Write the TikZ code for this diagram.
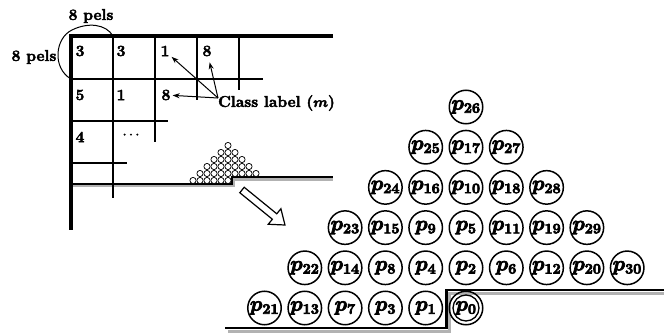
\documentclass[tikz,border=0pt]{standalone}
\usepackage{fontspec}
\usetikzlibrary{calc,arrows.meta}
\newcommand\heavyon[1]{\special{pdf:literal direct 2 Tr #1 w}}
\newcommand\heavyoff{\special{pdf:literal direct 0 Tr}}
\begin{document}
\begin{tikzpicture}[x=1pt,y=-1pt,
  thickln/.style={line width=3.3pt},
  thinln/.style={line width=1.2pt},
  stairln/.style={line width=2.6pt,line join=miter},
  stairshadow/.style={line width=3pt,black!30,line join=miter},
  bigc/.style={circle,draw,line width=1.5pt,minimum size=33.5pt,inner sep=0pt,
    font=\fontsize{22}{24}\selectfont\boldmath,
    execute at begin node={\heavyon{0.7}}, execute at end node={\heavyoff}},
  smallc/.style={circle,draw,fill=white,line width=0.7pt,minimum size=6.2pt,inner sep=0pt},
  num/.style={font=\fontsize{15.6}{18}\selectfont\bfseries,inner sep=2pt,
    execute at begin node={\heavyon{0.45}}, execute at end node={\heavyoff}},
  lblarrow/.style={line width=1pt,-{Stealth[length=7pt,width=5pt]}}]
\useasboundingbox (0,0) rectangle (664,334);

% big stair with shadow
\draw[stairshadow] (228,331) -- (449.5,331) -- (449.5,293) -- (664,293);
\draw[stairln] (225,328) -- (446.5,328) -- (446.5,290) -- (664,290);

% small stair with shadow
\draw[stairshadow,line width=2.2pt] (73,186) -- (233.5,186) -- (233.5,179.5) -- (333,179.5);
\draw[stairln,line width=2pt] (71,183.5) -- (231.5,183.5) -- (231.5,177) -- (333,177);

% grid
\draw[thinln] (71,79) -- (263,79);
\draw[thinln] (71,121) -- (168,121);
\draw[thinln] (71,163) -- (127,163);
\draw[thinln] (113,36) -- (113,198);
\draw[thinln] (155,36) -- (155,142);
\draw[thinln] (197,36) -- (197,100);
\draw[thinln] (239,36) -- (239,90);
\draw[thickln,line join=miter] (333,36) -- (71,36) -- (71,230);

% cell numbers
\node[num] (n11) at (80,51) {3};
\node[num] (n12) at (121,51) {3};
\node[num] (n13) at (165,51) {1};
\node[num] (n14) at (207,51) {8};
\node[num] (n21) at (80,95) {5};
\node[num] (n22) at (121,95) {1};
\node[num] (n23) at (166,95) {8};
\node[num] (n31) at (80,137) {4};
\node[num] (n32) at (131,135) {$\cdots$};

% 8 pels labels and arc
\node[num] (tp) at (91,16) {8 pels};
\node[num] (lp) at (34,57) {8 pels};
\draw[line width=1pt] (71,79) .. controls (52,68) and (55,38) .. (72,30)
  .. controls (88,22) and (106,24) .. (113,36);

% class label
\node[num,anchor=west,inner sep=0pt] (cl) at (218,103) {Class label ({\boldmath$m$})};
\coordinate (ct) at (218,98);
\draw[lblarrow] (ct) -- (n13);
\draw[lblarrow,shorten >=4pt] (ct) -- (n14);
\draw[lblarrow] (ct) -- (n23);

% pyramids
\foreach \c/\r/\l in {-5/0/21,-4/0/13,-3/0/7,-2/0/3,-1/0/1,0/0/0,
  -4/1/22,-3/1/14,-2/1/8,-1/1/4,0/1/2,1/1/6,2/1/12,3/1/20,4/1/30,
  -3/2/23,-2/2/15,-1/2/9,0/2/5,1/2/11,2/2/19,3/2/29,
  -2/3/24,-1/3/16,0/3/10,1/3/18,2/3/28,
  -1/4/25,0/4/17,1/4/27,
  0/5/26}
{
  \node[bigc] (p\l) at ({466+40.3*\c},{308-40.2*\r}) {$p_{\l}$};
  \node[smallc] (s\l) at ({228+7*\c},{180.5-7*\r}) {};
}
\draw[line width=1.3pt] (p0.center) circle (13pt);

% hollow arrow
\coordinate (at) at (242,190);
\coordinate (ah) at (285,225);
\coordinate (as) at ($(at)!42pt!(ah)$);
\draw[line width=1.2pt,line join=miter,fill=white]
  ($(at)!3.5pt!90:(ah)$) -- ($(as)!3.5pt!90:(ah)$) -- ($(as)!10pt!90:(ah)$)
  -- (ah) -- ($(as)!10pt!-90:(ah)$) -- ($(as)!3.5pt!-90:(ah)$)
  -- ($(at)!3.5pt!-90:(ah)$) -- cycle;
\end{tikzpicture}
\end{document}
